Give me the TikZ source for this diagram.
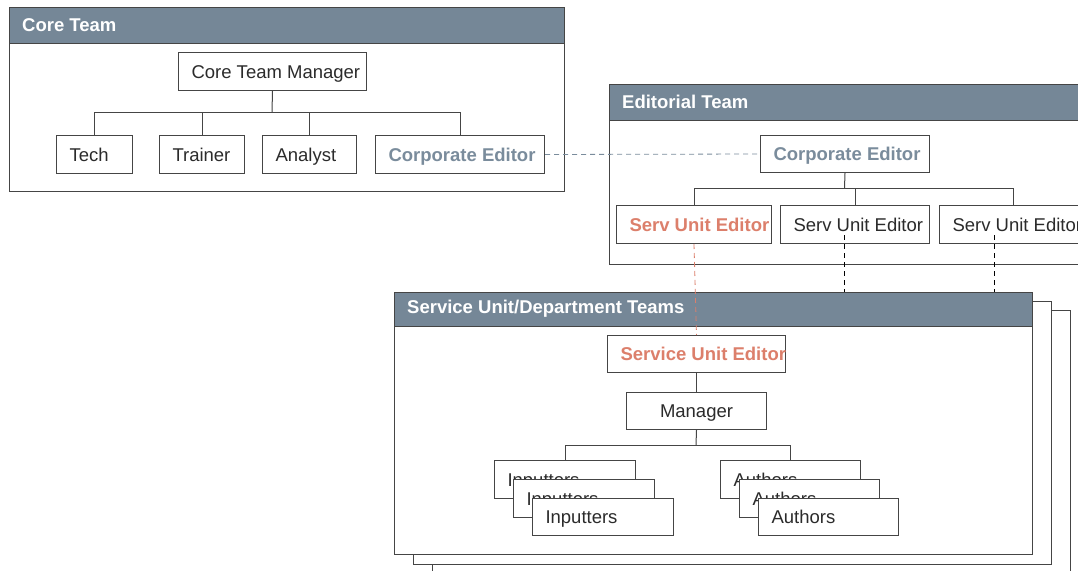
\documentclass[tikz,border=0pt]{standalone}
\usepackage{fontspec}
\setmainfont{Liberation Sans}
\definecolor{slate}{HTML}{758797}
\definecolor{slatetxt}{HTML}{7A8C9C}
\definecolor{redtxt}{HTML}{DC7F6B}
\definecolor{linec}{HTML}{454545}
\definecolor{txtc}{HTML}{2B2B2B}
\tikzset{
  ob/.style={draw=linec, fill=white, line width=1pt, inner sep=0pt, text height=13pt, text depth=0pt,
    font=\fontsize{18.5}{22}\selectfont},
  frame/.style={draw=linec, fill=white, line width=1pt},
  hdr/.style={draw=linec, fill=slate, line width=1pt},
  title/.style={text=white, anchor=west, inner sep=0pt, font=\fontsize{18.5}{22}\selectfont\bfseries},
  conn/.style={draw=linec, line width=1pt},
  dashc/.style={line width=0.8pt, dash pattern=on 5pt off 4pt},
}
% name, x1, y1, x2, y2, colour, text  (text set from the left, 13pt in)
\newcommand\obox[7]{\node[ob, text=#6, anchor=north west, minimum height={(#5-#3)*1pt}] (#1) at (#2,#3)
  {\makebox[\dimexpr #4pt-#2pt\relax][l]{\hspace*{13pt}#7}};}
% same, text centred
\newcommand\cbox[7]{\node[ob, text=#6, anchor=north west, minimum height={(#5-#3)*1pt}] (#1) at (#2,#3)
  {\makebox[\dimexpr #4pt-#2pt\relax][c]{#7}};}
\begin{document}
\begin{tikzpicture}[x=1pt,y=-1pt]
\useasboundingbox (0,0) rectangle (1078,570);
\clip (0,0) rectangle (1078,570);
\fill[white] (0,0) rectangle (1078,570);

% ---------- Core Team ----------
\draw[frame] (9,7) rectangle (564,191);
\draw[hdr] (9,7) rectangle (564,43);
\node[title] (tcore) at (22,25) {Core Team};
\obox{mgr}{178}{52}{366}{90}{txtc}{Core Team Manager}
\obox{tech}{56}{135}{132}{173}{txtc}{Tech}
\obox{trainer}{159}{135}{244}{173}{txtc}{Trainer}
\obox{analyst}{262}{135}{356}{173}{txtc}{Analyst}
\obox{corpa}{375}{135}{544}{173}{slatetxt}{\bfseries Corporate Editor}
\coordinate (cj) at (272,112);
\draw[conn] (mgr.south) -- (cj);
\draw[conn] (cj) -| (tech.north);
\draw[conn] (cj) -| (trainer.north);
\draw[conn] (cj) -| (analyst.north);
\draw[conn] (cj) -| (corpa.north);

% ---------- Editorial Team ----------
\draw[frame] (609,84) rectangle (1095,264);
\draw[hdr] (609,84) rectangle (1095,120);
\node[title] (tedit) at (622,102) {Editorial Team};
\obox{corpb}{760}{135}{929}{172}{slatetxt}{\bfseries Corporate Editor}
\obox{sua}{616}{205}{771}{243}{redtxt}{\bfseries Serv Unit Editor}
\obox{sub}{780}{205}{929}{243}{txtc}{Serv Unit Editor}
\obox{suc}{939}{205}{1087}{243}{txtc}{Serv Unit Editor}
\coordinate (ej) at (844.5,188);
\draw[conn] (corpb.south) -- (ej);
\draw[conn] (ej) -| (sua.north);
\draw[conn] (ej) -| (sub.north);
\draw[conn] (ej) -| (suc.north);

\draw[dashc, draw=slatetxt] (corpa.east) -- (corpb.west);

% dashed links to the stacked team boxes
\coordinate (db1) at (844,235);
\coordinate (db2) at (994,235);
\coordinate (de1) at (844,301);
\coordinate (de2) at (994,310);
\draw[dashc, draw=black] (db1) -- (de1);
\draw[dashc, draw=black] (db2) -- (de2);

% ---------- Service Unit / Department Teams ----------
\draw[frame] (432,310) rectangle (1070,600);
\draw[frame] (413,301) rectangle (1051,564);
\draw[frame] (394,292) rectangle (1032,554);
\draw[hdr] (394,292) rectangle (1032,326);
\node[title] (tserv) at (407,309) {Service Unit/Department Teams};

\obox{sue}{607}{335}{785}{372}{redtxt}{\bfseries Service Unit Editor}
\cbox{smgr}{626}{392}{766}{429}{txtc}{Manager}
\draw[conn] (sue.south) -- (smgr.north);

\obox{inpa}{494}{460}{635}{498}{txtc}{Inputters}
\obox{inpb}{513}{479}{654}{517}{txtc}{Inputters}
\obox{inpc}{532}{498}{673}{535}{txtc}{Inputters}
\obox{auta}{720}{460}{860}{498}{txtc}{Authors}
\obox{autb}{739}{479}{879}{517}{txtc}{Authors}
\obox{autc}{758}{498}{898}{535}{txtc}{Authors}
\coordinate (sj) at (696,445);
\draw[conn] (smgr.south) -- (sj);
\draw[conn] (sj) -| (inpa.north);
\draw[conn] (sj) -| (auta.north);

\draw[dashc, draw=redtxt] (sua.south) -- (sue.north);
\end{tikzpicture}
\end{document}
